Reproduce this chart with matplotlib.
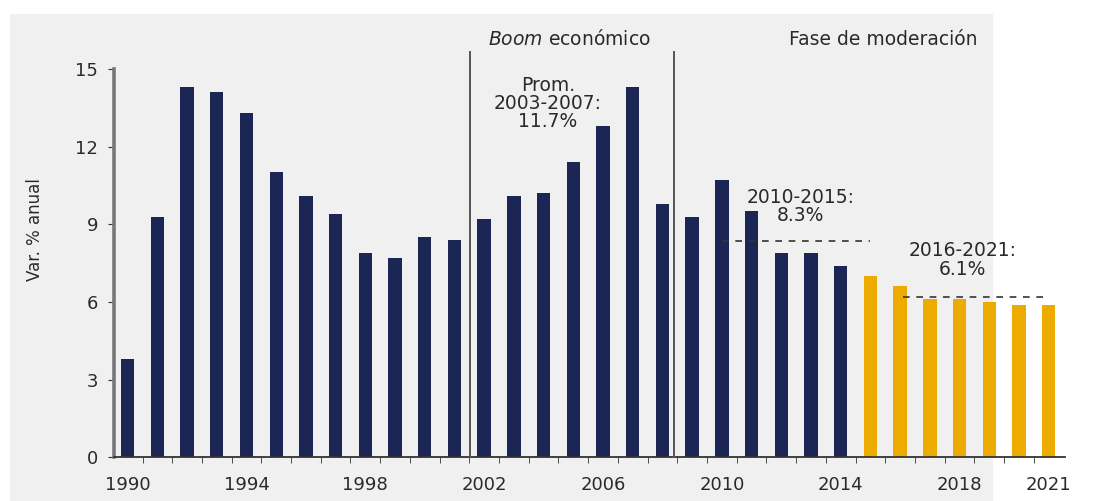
import matplotlib.pyplot as plt
from matplotlib.patches import Rectangle

years = list(range(1990, 2022))
growth = [3.8, 9.3, 14.3, 14.1, 13.3, 11.0, 10.1, 9.4, 7.9, 7.7,
          8.5, 8.4, 9.2, 10.1, 10.2, 11.4, 12.8, 14.3, 9.8, 9.3,
          10.7, 9.5, 7.9, 7.9, 7.4, 7.0, 6.6, 6.1, 6.1, 6.0,
          5.9, 5.9]
first_forecast = 2015
tick_years = [1990, 1994, 1998, 2002, 2006, 2010, 2014, 2018, 2021]
avg_2010_2015 = 8.35
avg_2016_2021 = 6.2

navy = "#1c2654"
gold = "#edab00"
txt = "#2a2a2a"

fig = plt.figure(figsize=(10.94, 5.01), dpi=100)
fig.patches.append(Rectangle((10 / 1094, 0), 983 / 1094, 1 - 14 / 501,
                             transform=fig.transFigure, facecolor="#f0f0f0",
                             edgecolor="none", zorder=-5))
ax = fig.add_axes([0.1042, 0.0872, 0.8693, 0.8166])
ax.set_facecolor("none")

colors = [navy if y < first_forecast else gold for y in years]
ax.bar(years, growth, width=0.45, color=colors, zorder=2)

ax.set_xlim(1989.54, 2021.55)
ax.set_ylim(0, 15.8)
ax.set_yticks([0, 3, 6, 9, 12, 15])
ax.set_xticks(tick_years)
ax.set_xticks([y + 0.5 for y in years[:-1]], minor=True)
ax.tick_params(axis="x", which="major", length=0, pad=13.5, labelsize=13, colors=txt)
ax.tick_params(axis="x", which="minor", length=4, direction="out", color="#333")
ax.tick_params(axis="y", length=4.3, direction="out", labelsize=13, colors=txt,
               pad=7, color="#333")

for s in ["top", "right"]:
    ax.spines[s].set_visible(False)
ax.spines["left"].set_bounds(0, 15)
ax.spines["left"].set_color("#777")
ax.spines["left"].set_linewidth(2.6)
ax.spines["bottom"].set_color("#333")
ax.spines["bottom"].set_linewidth(1.3)

ax.text(-0.083, 0.556, "Var. % anual", rotation=90, ha="center", va="center",
        fontsize=12, color=txt, transform=ax.transAxes)

# phase separators
for xv in [2001.52, 2008.4]:
    ax.plot([xv, xv], [0, 15.67], color="#555", lw=1.4, clip_on=False, zorder=3)

ax.text(2004.88, 15.93, r"$\it{Boom}$ económico", ha="center", va="baseline",
        fontsize=13.5, color=txt, clip_on=False)
ax.text(2015.43, 15.93, "Fase de moderación", ha="center", va="baseline",
        fontsize=13.5, color=txt, clip_on=False)

ax.text(2004.15, 13.67, "Prom.\n2003-2007:\n11.7%", ha="center", va="center",
        fontsize=13.5, color=txt, linespacing=0.95)

ax.plot([2010, 2015], [avg_2010_2015] * 2, ls=(0, (4, 4)), color="#333", lw=1.2)
ax.text(2012.66, 9.69, "2010-2015:\n8.3%", ha="center", va="center",
        fontsize=13.5, color=txt, linespacing=0.95)

ax.plot([2016.1, 2021], [avg_2016_2021] * 2, ls=(0, (4, 4)), color="#333", lw=1.2)
ax.text(2018.1, 7.62, "2016-2021:\n6.1%", ha="center", va="center",
        fontsize=13.5, color=txt, linespacing=0.95)

fig.savefig("out.png", dpi=100)
